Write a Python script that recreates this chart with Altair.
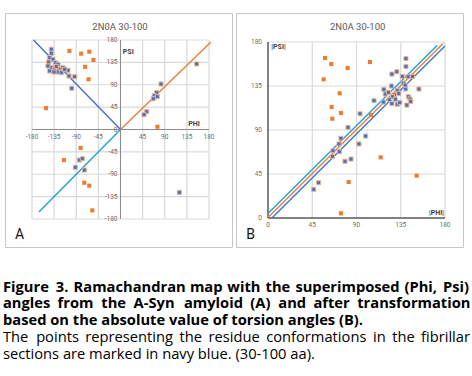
import altair as alt
import pandas as pd

PANEL_TITLE = "2N0A 30-100"

# ---------------- Panel A : (Phi, Psi) ----------------
a_orange_phi = [-104, -80, -63.5, -55, -72, -65, -151.5, 75, -81, -115, -73.6, -63.5, -57.3]
a_orange_psi = [158, 152.5, 156.5, 140, 126, 101, 43, 5.6, -37, -61.5, -107, -113, -162.6]

a_blue_phi = [-140.7, -140.7, -144, -137.3, -146, -132.6, -127.1, -140.7, -133.8, -123.7, -116.9,
              -144, -127.1, -120.4, -106.8, -104.7, -93.1, -99.2, -147.4, -130.6, -135.2, -113.5,
              82.4, 73.6, 68.7, 74.8, 66.7, 53.3, 47.8, 155, 119.6,
              -91.9, -83.8, -77.7, -73.6]
a_blue_psi = [161.4, 153.3, 144.5, 141.2, 135.8, 134.4, 131.2, 124.3, 121.1, 121.1, 124.3,
              117.7, 115.7, 114.3, 119.1, 107.6, 106.2, 83, 127.8, 126.4, 115.7, 121.1,
              91.5, 74, 68, 66, 62, 35.8, 29.8, 131.8, -126.4,
              -76, -61.4, -58.7, -81.5]

# reference lines in A (from origin)
a_navy_line = {"x": [0, -177], "y": [0, 180]}
a_orange_line = {"x": [0, 184], "y": [0, 176]}
a_light_line = {"x": [0, -166], "y": [0, -166]}

grid_a = [-180, -135, -90, -45, 0, 45, 90, 135, 180]
xticks_a = [-180, -135, -90, -45, 45, 90, 135, 180]
yticks_a = [-180, -135, -90, -45, 0, 45, 90, 135, 180]

# ---------------- Panel B : (|Phi|, |Psi|) ----------------
b_orange_phi = [58, 64.4, 81, 103.7, 56.6, 72.9, 64.7, 74.2, 65.4, 104.7, 114.6, 151.2, 82, 74.2]
b_orange_psi = [163.6, 157.5, 153.4, 159.5, 141.8, 127.5, 113.5, 107.4, 101.5, 105.3, 62, 43.3, 36.8, 4.8]

b_blue_phi = [140.3, 140.3, 126, 131, 136.5, 147, 142.5, 137.5, 140, 153.5, 117.8, 119.3, 125.5,
              128.4, 126.5, 131.5, 133, 123.4, 129.5, 117.3, 126, 131.5, 134, 141.2, 142.7, 144.4,
              145.1, 107.8, 122.5, 139.5,
              46.5, 51.5, 65.5, 66.1, 72.5, 72.2, 74.2, 78.3, 84.4, 81.4, 92.5, 99.3, 93.6]
b_blue_psi = [163, 155, 147.2, 149.6, 144.8, 144.8, 144.5, 138, 132, 131.9, 131.6, 126.8, 135,
              125.8, 124, 130.5, 127.5, 121, 121.4, 118.6, 117, 116.3, 118, 115.5, 124, 121.7,
              119.3, 120, 128.5, 136,
              29.3, 36.1, 63, 68.8, 67.8, 75.7, 81.5, 58, 60.3, 92.7, 75.7, 83.8, 106.6]

b_light_line = {"x": [0, 172], "y": [4.5, 176.5]}
b_orange_line = {"x": [0, 178], "y": [0.5, 178.5]}
b_navy_line = {"x": [4, 180], "y": [0, 176]}

grid_b = [45, 90, 135, 180]
ticks_b = [0, 45, 90, 135, 180]

# ---------------- Caption ----------------
caption_lines = [
    ("Figure 3. Ramachandran map with the superimposed (Phi, Psi)", True, True),
    ("angles from the A-Syn amyloid (A) and after transformation", True, True),
    ("based on the absolute value of torsion angles (B).", True, False),
    ("The points representing the residue conformations in the fibrillar", False, True),
    ("sections are marked in navy blue. (30-100 aa).", False, False),
]
caption_y = [37.5, 54.3, 71, 87.8, 104.5]

ORANGE = "#ED7D31"
BLUE = "#4472C4"
LIGHT = "#1E9FE3"
GRID = "#D9D9D9"
BOX = "#C6C6C6"
LABEL = "#6E6E6E"
FONT = "Roboto"
CAP_FONT = "Open Sans"
CAP_SIZE = 14.7


def sc(domain):
    return alt.Scale(domain=domain, nice=False, zero=False)


def one():
    return pd.DataFrame({"k": [0]})


def box(w, h, x0=0.5):
    return alt.Chart(one()).mark_rect(fillOpacity=0, stroke=BOX, strokeWidth=1).encode(
        x=alt.value(x0), x2=alt.value(w - 0.5), y=alt.value(0.5), y2=alt.value(h - 0.5))


def rules_v(vals, lo, hi, xs, ys, color, width):
    df = pd.DataFrame({"g": vals, "lo": [lo] * len(vals), "hi": [hi] * len(vals)})
    return alt.Chart(df).mark_rule(color=color, strokeWidth=width).encode(
        x=alt.X("g:Q", scale=xs, axis=None), y=alt.Y("lo:Q", scale=ys, axis=None), y2="hi:Q")


def rules_h(vals, lo, hi, xs, ys, color, width):
    df = pd.DataFrame({"g": vals, "lo": [lo] * len(vals), "hi": [hi] * len(vals)})
    return alt.Chart(df).mark_rule(color=color, strokeWidth=width).encode(
        y=alt.Y("g:Q", scale=ys, axis=None), x=alt.X("lo:Q", scale=xs, axis=None), x2="hi:Q")


def line(d, color, xs, ys, width=1.4):
    df = pd.DataFrame({"x": d["x"], "y": d["y"], "o": list(range(len(d["x"])))})
    return alt.Chart(df).mark_line(color=color, strokeWidth=width).encode(
        x=alt.X("x:Q", scale=xs, axis=None), y=alt.Y("y:Q", scale=ys, axis=None), order="o:Q")


def points(px, py, color, xs, ys, blue=False):
    df = pd.DataFrame({"x": px, "y": py})
    if blue:
        m = alt.Chart(df).mark_point(shape="square", filled=True, size=17, color=color,
                                     stroke="#F2B58C", strokeWidth=1, opacity=1)
    else:
        m = alt.Chart(df).mark_point(shape="square", filled=True, size=17, color=color, opacity=1)
    return m.encode(x=alt.X("x:Q", scale=xs, axis=None), y=alt.Y("y:Q", scale=ys, axis=None))


def tick_text(vals, xs, ys, horizontal, at, **kw):
    labels = [str(v) for v in vals]
    if horizontal:
        df = pd.DataFrame({"x": vals, "y": [at] * len(vals), "t": labels})
    else:
        df = pd.DataFrame({"x": [at] * len(vals), "y": vals, "t": labels})
    return alt.Chart(df).mark_text(font=FONT, fontSize=6.5, color=LABEL, **kw).encode(
        x=alt.X("x:Q", scale=xs, axis=None), y=alt.Y("y:Q", scale=ys, axis=None), text="t:N")


def label(text, x, y, size, weight="normal", color="#404040", font=FONT):
    return alt.Chart(one()).mark_text(text=text, font=font, fontSize=size, fontWeight=weight,
                                      color=color).encode(x=alt.value(x), y=alt.value(y))


# ---- Panel A chart (origin at page x=3, y=13) ----
WA, HA = 230, 235
xs_a = sc([-238.98, 228.81])
ys_a = sc([-238.32, 234.3])

panel_a = alt.layer(
    box(WA, HA, x0=2.5),
    rules_v(grid_a, -180, 180, xs_a, ys_a, GRID, 1.2),
    rules_h(grid_a, -180, 180, xs_a, ys_a, GRID, 1.2),
    rules_v([0], -180, 180, xs_a, ys_a, "#8C8C8C", 1),
    rules_h([0], -180, 180, xs_a, ys_a, "#8C8C8C", 1),
    tick_text(xticks_a, xs_a, ys_a, True, 0, dy=7),
    tick_text(yticks_a, xs_a, ys_a, False, 0, align="right", dx=-3),
    line(a_navy_line, BLUE, xs_a, ys_a),
    line(a_orange_line, ORANGE, xs_a, ys_a),
    line(a_light_line, LIGHT, xs_a, ys_a),
    points(a_orange_phi, a_orange_psi, ORANGE, xs_a, ys_a),
    points(a_blue_phi, a_blue_psi, BLUE, xs_a, ys_a, blue=True),
    label(PANEL_TITLE, 117, 14, 9.5, color="#595959"),
    label("PSI", 125.3, 38.7, 7, "bold"),
    label("PHI", 191, 111, 7, "bold"),
    label("A", 16.5, 222, 14, "normal", "#111111"),
).properties(width=WA, height=HA)

# ---- Panel B chart (origin at page x=236, y=13) ----
WB, HB = 228, 235
xs_b = sc([-32.54, 199.32])
ys_b = sc([-30.68, 209.66])

panel_b = alt.layer(
    box(WB, HB),
    rules_v(grid_b, 0, 180, xs_b, ys_b, GRID, 1.2),
    rules_h(grid_b, 0, 180, xs_b, ys_b, GRID, 1.2),
    rules_v([0], 0, 180, xs_b, ys_b, "#595959", 1.5),
    rules_h([0], 0, 180, xs_b, ys_b, "#595959", 1.5),
    tick_text(ticks_b, xs_b, ys_b, True, 0, dy=7),
    tick_text(ticks_b, xs_b, ys_b, False, 0, align="right", dx=-6),
    line(b_light_line, LIGHT, xs_b, ys_b),
    line(b_orange_line, ORANGE, xs_b, ys_b),
    line(b_navy_line, BLUE, xs_b, ys_b),
    points(b_orange_phi, b_orange_psi, ORANGE, xs_b, ys_b),
    points(b_blue_phi, b_blue_psi, BLUE, xs_b, ys_b, blue=True),
    label(PANEL_TITLE, 121.7, 14, 9.5, color="#595959"),
    label("|PSI|", 42.5, 34, 7, "bold"),
    label("|PHI|", 200.5, 199.7, 7, "bold"),
    label("B", 14.5, 222, 14, "normal", "#111111"),
).properties(width=WB, height=HB)


# ---- Caption (origin at page x=3, y=250) ----
BOLD_W = {" ": .26, "a": .586, "b": .627, "c": .514, "d": .627, "e": .59, "f": .395, "g": .56,
          "h": .653, "i": .305, "j": .305, "k": .62, "l": .305, "m": .983, "n": .653, "o": .618,
          "p": .627, "q": .627, "r": .454, "s": .498, "t": .434, "u": .653, "v": .57, "w": .856,
          "x": .599, "y": .57, "z": .485, ".": .285, ",": .285, "(": .35, ")": .35, "-": .32}
REG_W = {" ": .26, "a": .556, "b": .613, "c": .48, "d": .613, "e": .561, "f": .336, "g": .548,
         "h": .614, "i": .252, "j": .252, "k": .5, "l": .252, "m": .93, "n": .614, "o": .602,
         "p": .613, "q": .613, "r": .408, "s": .477, "t": .353, "u": .614, "v": .5, "w": .786,
         "x": .5, "y": .5, "z": .45, ".": .266, ",": .266, "(": .3, ")": .3, "-": .32}


def est_width(word, size, bold):
    table = BOLD_W if bold else REG_W
    w = 0.0
    for ch in word:
        if ch in table:
            w += table[ch]
        elif ch.isdigit():
            w += 0.572
        elif ch.isupper():
            w += 0.68 if bold else 0.64
        else:
            w += 0.55
    return w * size


CAP_W = 467
rows = []
for (text, bold, justify), yy in zip(caption_lines, caption_y):
    if justify:
        words = text.split()
        ws = [est_width(w, CAP_SIZE, bold) for w in words]
        gap = (CAP_W - sum(ws)) / (len(words) - 1)
        x = 0.0
        for w, wd in zip(words, ws):
            rows.append({"x": x, "y": yy, "t": w, "b": bold})
            x += wd + gap
    else:
        rows.append({"x": 0.0, "y": yy, "t": text, "b": bold})
cap_df = pd.DataFrame(rows)

cap_bold = alt.Chart(cap_df).transform_filter("datum.b").mark_text(
    font=CAP_FONT, fontSize=CAP_SIZE, fontWeight="bold", align="left", baseline="middle",
    color="#000000").encode(x=alt.X("x:Q", scale=None, axis=None),
                            y=alt.Y("y:Q", scale=None, axis=None), text="t:N")
cap_reg = alt.Chart(cap_df).transform_filter("!datum.b").mark_text(
    font=CAP_FONT, fontSize=CAP_SIZE, fontWeight="normal", align="left", baseline="middle",
    color="#000000").encode(x=alt.X("x:Q", scale=None, axis=None),
                            y=alt.Y("y:Q", scale=None, axis=None), text="t:N")
caption = alt.layer(cap_bold, cap_reg).properties(width=CAP_W, height=118)

top = alt.hconcat(panel_a, panel_b, spacing=3, bounds="flush")
chart = alt.vconcat(top, caption, spacing=2, bounds="full").properties(
    padding={"left": 3, "top": 13, "right": 0, "bottom": 0},
    background="white",
).configure_view(strokeWidth=0)

chart.save("out.html", embed_options={"renderer": "svg", "actions": False})
